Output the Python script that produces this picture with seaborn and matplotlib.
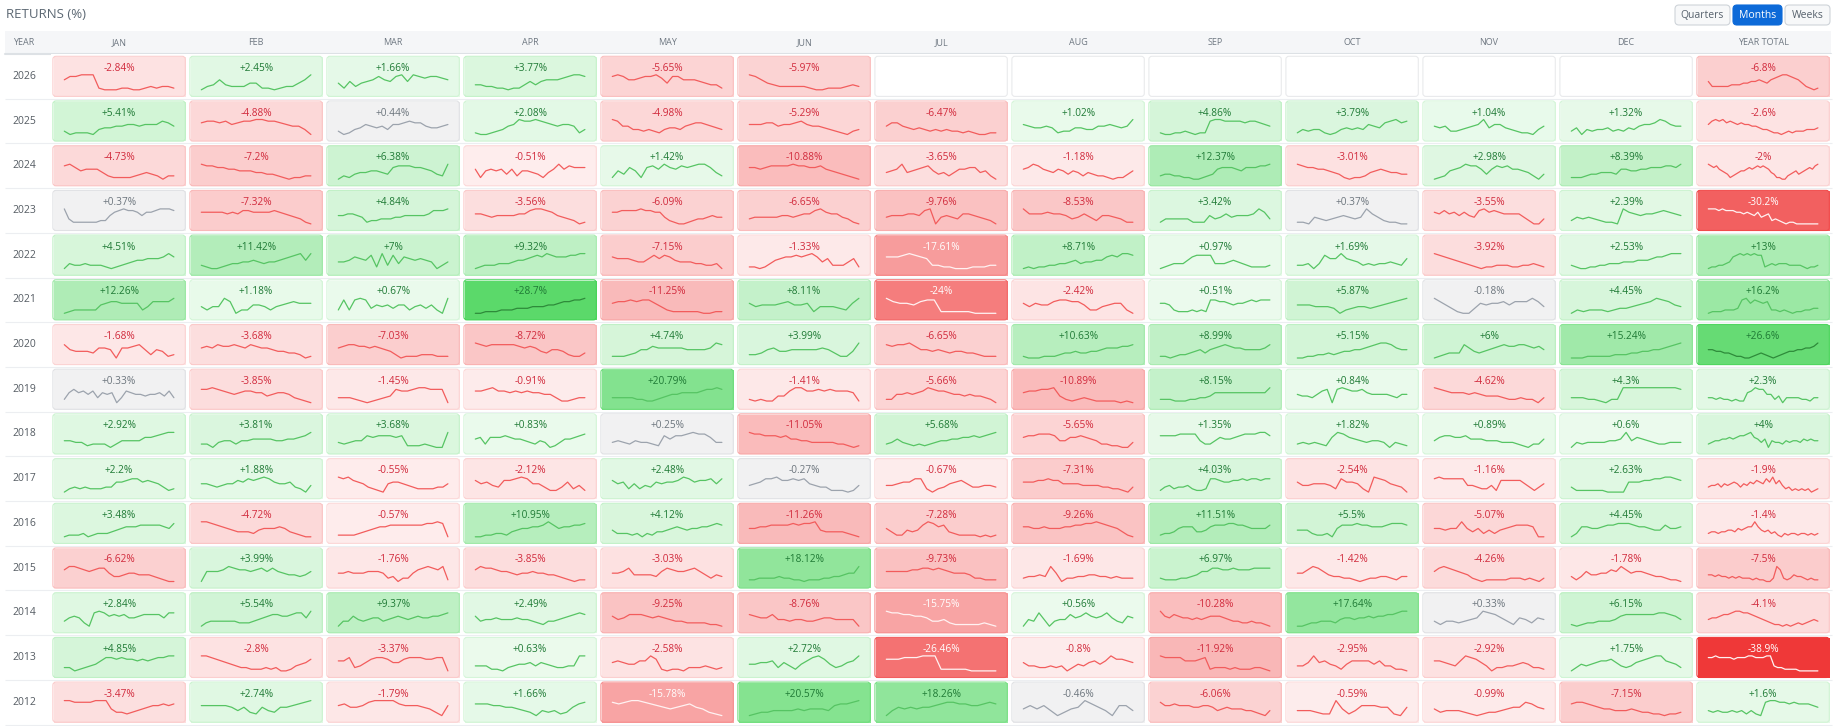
import numpy as np
import pandas as pd
import matplotlib.pyplot as plt
import seaborn as sns
from matplotlib.colors import ListedColormap
from matplotlib.patches import FancyBboxPatch, Rectangle

nan = np.nan
years = [2026, 2025, 2024, 2023, 2022, 2021, 2020, 2019, 2018, 2017, 2016, 2015, 2014, 2013, 2012, 2011]
columns = ['JAN', 'FEB', 'MAR', 'APR', 'MAY', 'JUN', 'JUL', 'AUG', 'SEP', 'OCT', 'NOV', 'DEC', 'YEAR TOTAL']

# monthly returns (%) + year total
r2026 = [-2.84, 2.45, 1.66, 3.77, -5.65, -5.97, nan, nan, nan, nan, nan, nan, -6.8]
r2025 = [5.41, -4.88, 0.44, 2.08, -4.98, -5.29, -6.47, 1.02, 4.86, 3.79, 1.04, 1.32, -2.6]
r2024 = [-4.73, -7.2, 6.38, -0.51, 1.42, -10.88, -3.65, -1.18, 12.37, -3.01, 2.98, 8.39, -2]
r2023 = [0.37, -7.32, 4.84, -3.56, -6.09, -6.65, -9.76, -8.53, 3.42, 0.37, -3.55, 2.39, -30.2]
r2022 = [4.51, 11.42, 7, 9.32, -7.15, -1.33, -17.61, 8.71, 0.97, 1.69, -3.92, 2.53, 13]
r2021 = [12.26, 1.18, 0.67, 28.7, -11.25, 8.11, -24, -2.42, 0.51, 5.87, -0.18, 4.45, 16.2]
r2020 = [-1.68, -3.68, -7.03, -8.72, 4.74, 3.99, -6.65, 10.63, 8.99, 5.15, 6, 15.24, 26.6]
r2019 = [0.33, -3.85, -1.45, -0.91, 20.79, -1.41, -5.66, -10.89, 8.15, 0.84, -4.62, 4.3, 2.3]
r2018 = [2.92, 3.81, 3.68, 0.83, 0.25, -11.05, 5.68, -5.65, 1.35, 1.82, 0.89, 0.6, 4]
r2017 = [2.2, 1.88, -0.55, -2.12, 2.48, -0.27, -0.67, -7.31, 4.03, -2.54, -1.16, 2.63, -1.9]
r2016 = [3.48, -4.72, -0.57, 10.95, 4.12, -11.26, -7.28, -9.26, 11.51, 5.5, -5.07, 4.45, -1.4]
r2015 = [-6.62, 3.99, -1.76, -3.85, -3.03, 18.12, -9.73, -1.69, 6.97, -1.42, -4.26, -1.78, -7.5]
r2014 = [2.84, 5.54, 9.37, 2.49, -9.25, -8.76, -15.75, 0.56, -10.28, 17.64, 0.33, 6.15, -4.1]
r2013 = [4.85, -2.8, -3.37, 0.63, -2.58, 2.72, -26.46, -0.8, -11.92, -2.95, -2.92, 1.75, -38.9]
r2012 = [-3.47, 2.74, -1.79, 1.66, -15.78, 20.57, 18.26, -0.46, -6.06, -0.59, -0.99, -7.15, 1.6]
r2011 = [2.5, 3.0, -2.0, 2.5, -2.0, -10.0, 1.5, 5.0, -12.0, 2.0, -3.0, 1.5, -2.0]  # only a sliver visible

# sparkline shapes, relative level 0 (low) .. 9 (high), estimated by eye
s2026 = ["68899910001100121221", "0236322244110122469", "41524568658959878876", "332211011353566678998",
         "898667889748866654331", "9864322222100111232", "", "", "", "", "", "", "52222233344556546789987642101"]
s2025 = ["20111034455665666875", "7887867889988765530", "201346545366787754456", "100123569889876566513",
         "9855332321344356776543", "66677566786554321023", "577543432323221210011", "65445412244335565459",
         "10011210118998888788765", "132331013434365478978", "545223456946643211035", "2403233423243566798655",
         "6898978767665543321101212223334"]
s2024 = ["897566642111123432022", "988776655544332101122", "021344554378887765329", "6156563625543146968777",
         "15375178697687899742", "776788889887786543210", "4569456785342466774520", "67986546535424322101135",
         "233221100123677765777889", "9877665431011245654433", "0125679886368786654203", "11123344436655667778879",
         "98786543123455676787876431100234534567689"]
s2023 = ["9311111122578988757789998", "7777767688777787654310", "556654122333445555568889", "665455556689987543201",
         "778888988774210012334544", "344444554566897664310", "455566589045436654320", "9666766534642554311",
         "133333111534645556973", "11043234543496421100", "76867575489787666642003", "24343211097656678765",
         "99989888776765745623210110000000"]
s2022 = ["0322322210123455666797", "2100123344543445678959", "445765819283765654024", "012223334556787987778899",
         "7666544686875444332230", "1101356778789746222461", "77789876221100011122", "0101122334534455787998",
         "0123335788883334543211112", "223038669654232334326", "9876543210112221122321", "210011223334445556778999",
         "01122347898989881232333222210112"]
s2021 = ["0122222567766662477779", "42449702255424567666", "282898354535524535209", "0011122233344455677889",
         "6778788642111110011", "645556755614443269", "97665788111110000", "6465578877522456620",
         "6652111212188776566787888", "5554443023443456789", "97531003656675777974", "0212221233456798754",
         "011122238968767221210112233"]
s2020 = ["85444366506678525412", "676877876876654433201", "6788776765420111222111", "987888887676435542113",
         "11123557666665555698", "2235644555556531149", "87889755454344332111", "1000111233433445666778",
         "11012234535678766555568", "0011223234455678998655", "01233386434567877887675", "000111112223344556789",
         "5544332110012321012344556679"]
s2019 = ["268675736560376554556473", "889876567766456653210", "33321012348778998880", "77897767676655311233",
         "33333221123455666678898", "21211447997787877761", "2255656798776554544320", "6778894212321111010",
         "22211122334666666666669", "54435780898778655554355", "98766656544432232203", "33322102299999999998",
         "33232212116798855240333322133"]
s2018 = ["44331222024444667899", "22034424455554455679", "32344767776711121009", "56266676554324301355678",
         "34324332175778988633", "9887776755443333322101", "235321212344556676789", "6778887446676542211003",
         "77778888422465567888997", "23232169865434430321", "4677667555444333210225", "032333344594654322333",
         "23445565677896535043324344354544"]
s2017 = ["0232322233667886765312", "5543455768789865563204", "98976532105665432222335", "75643778985531136241",
         "756252436566798677858", "456889778785433111014", "44566882023567533443", "66677877555544443322103",
         "1342334211288766778788788", "644555428665209875430", "898888844322417777753135", "3111111000066677889987",
         "34453545653546576586957423121212012"]
s2016 = ["011120122234566677777658", "9987654333245556532100", "1111234566777777788980", "0011221345566797566778",
         "42221202133456545566787", "556677778788943333210", "5311434798673211110101", "6655655566778898765310",
         "1223566633467778877655557", "44421120577787766678887", "554559535242456777600", "0266556778887665447556",
         "2332334435456696434231021221221212"]
s2015 = ["79987678853345544432100", "066679877678686544346", "55655566652302257898791", "7988766545565544321011",
         "556844443687667864243", "11222232211011122334559", "6666677887876555422111", "233439502233443323222",
         "2111223466887787778888", "5579864332210122332133", "689876542101111122212102", "31364455769756654332110",
         "443433232322212110029721243321211"]
s2014 = ["35652089867675567777588", "023333332223456776678859", "03364345534565456556678", "6344544454432133456787",
         "64577765654332222110", "76557443443345544440", "98877665334211111210", "0438403447568656853265",
         "9657655454566654332232210", "001223332455455656677899", "3133234598753154254", "101223334677777788764",
         "45567789988765432110101212343"]
s2013 = ["2201234688787767678899", "99876543221112120013457", "668235788755788877880", "333110234453543223399",
         "565446697101102223212", "44556253146897423569", "7778889991111100000", "533223230243564697765",
         "98888666781222121112210", "335956431466664633110", "6654369875302233454221", "02434566753235678996542",
         "8898888788899888993221111000000"]
s2012 = ["9988889994221234566767", "6666653521532556789", "6755689999766654206", "7776655432032312578",
         "878998765456754210", "0122333343444367789", "0354545567887766787", "46463024597530663",
         "866766655665345444332103", "333211941366655105", "4233321012234558754", "788765443334322110112",
         "323223231310899887877765"]
s2011 = [""] * 13

returns = [r2026, r2025, r2024, r2023, r2022, r2021, r2020, r2019, r2018, r2017, r2016, r2015, r2014, r2013, r2012, r2011]
sparks = [s2026, s2025, s2024, s2023, s2022, s2021, s2020, s2019, s2018, s2017, s2016, s2015, s2014, s2013, s2012, s2011]

df = pd.DataFrame(returns, index=years, columns=columns)

GREEN = (40 / 255, 205 / 255, 60 / 255)
RED = (239 / 255, 56 / 255, 56 / 255)
GRAY = (0.945, 0.945, 0.95)


def shade(v, extra=0.0):
    if abs(v) < 0.5:
        return GRAY
    a = min(1.0, 0.08 + abs(v) / 42 + extra)
    base = GREEN if v > 0 else RED
    return tuple(1 - a * (1 - c) for c in base)


levels = np.round(np.linspace(-40, 40, 8001), 2)
cmap = ListedColormap([shade(v) for v in levels])

sns.set_style('white')
plt.rcParams['font.family'] = ['Open Sans', 'DejaVu Sans']

W, H = 1848, 726
LEFT, TOP = 50.6, 54.0
PX, PY = 137.0, 44.7
nrows, ncols = len(years), len(columns)
shown = 15  # rows that fit on the page, the last one is only a sliver

fig = plt.figure(figsize=(W / 100, H / 100), dpi=100)

# page chrome in pixel coordinates
bg = fig.add_axes([0, 0, 1, 1], zorder=-1)
bg.set_xlim(0, W)
bg.set_ylim(H, 0)
bg.axis('off')
bg.text(6, 15, 'RETURNS (%)', fontsize=9.5, color='#5c6873', va='center')
bg.add_patch(Rectangle((5, 31), 1826, 22, fc='#f5f6f8', ec='none'))
bg.plot([5, 1831], [53.5, 53.5], color='#dde1e5', lw=1.5)
bg.text(24, 42.5, 'YEAR', fontsize=6.5, color='#6f7882', ha='center', va='center')
for x0, x1, lab, on in [(1675, 1730, 'Quarters', False), (1733, 1782, 'Months', True), (1785, 1830, 'Weeks', False)]:
    bg.add_patch(FancyBboxPatch((x0, 5), x1 - x0, 20, boxstyle='round,pad=0,rounding_size=4',
                                fc='#0d6ad8' if on else '#f7f8f9', ec='#0d6ad8' if on else '#cfd4d9', lw=0.8))
    bg.text((x0 + x1) / 2, 15.5, lab, fontsize=7.5, color='white' if on else '#56616c', ha='center', va='center')

ax = fig.add_axes([LEFT / W, 1 - (TOP + nrows * PY) / H, ncols * PX / W, nrows * PY / H])
ax.patch.set_visible(False)
sns.heatmap(df, ax=ax, cmap=cmap, vmin=-40.005, vmax=40.005, cbar=False,
            linewidths=3.3, linecolor='white', xticklabels=columns, yticklabels=years)
ax.set_xlabel('')
ax.set_ylabel('')
ax.xaxis.tick_top()
ax.set_xticklabels(columns, rotation=0)
ax.set_yticks(np.arange(shown) + 0.5)
ax.set_yticklabels(years[:shown], rotation=0)
ax.tick_params(axis='x', length=0, pad=5.3, labelsize=6.5, labelcolor='#6f7882')
ax.tick_params(axis='y', length=0, pad=10.5, labelsize=7.5, labelcolor='#555c63')

ax.hlines(np.arange(1, nrows), (5 - LEFT) / PX, ncols, color='#eceef1', lw=0.8, clip_on=False, zorder=2)

dx, dy = 2.3 / PX, 2.3 / PY
for i, (row_r, row_s) in enumerate(zip(returns, sparks)):
    for j, (v, s) in enumerate(zip(row_r, row_s)):
        if np.isnan(v):
            edge = '#e9eaec'
        elif abs(v) < 0.5:
            edge = '#e0e1e4'
        else:
            edge = shade(v, 0.1)
        ax.add_patch(FancyBboxPatch((j + dx, i + dy), 1 - 2 * dx, 1 - 2 * dy,
                                    boxstyle=f'round,pad=0,rounding_size={3 / PX}',
                                    mutation_aspect=PX / PY, fc='none', ec=edge, lw=0.8, zorder=2))
        if np.isnan(v) or i >= shown:
            continue
        if abs(v) < 0.5:
            tc, lc = '#6c757d', '#9ca3ad'
        elif v > 0:
            tc, lc = '#1f7a35', ('#2e8b3a' if v >= 25 else '#56c463')
        else:
            tc, lc = ('white', '#fff2f2') if v <= -15 else ('#d12a3c', '#f25c5c')
        ax.text(j + 0.5, i + 14.3 / PY, f'{v:+g}%', fontsize=7.3, color=tc, ha='center', va='center', zorder=4)
        if s:
            pts = np.array([int(c) for c in s], float)
            xs = j + 0.1 + 0.8 * np.linspace(0, 1, len(pts))
            ys = i + 35.8 / PY - pts / 9 * (15 / PY)
            ax.plot(xs, ys, color=lc, lw=0.9, zorder=3, solid_joinstyle='round')

fig.savefig('out.png', dpi=100)
